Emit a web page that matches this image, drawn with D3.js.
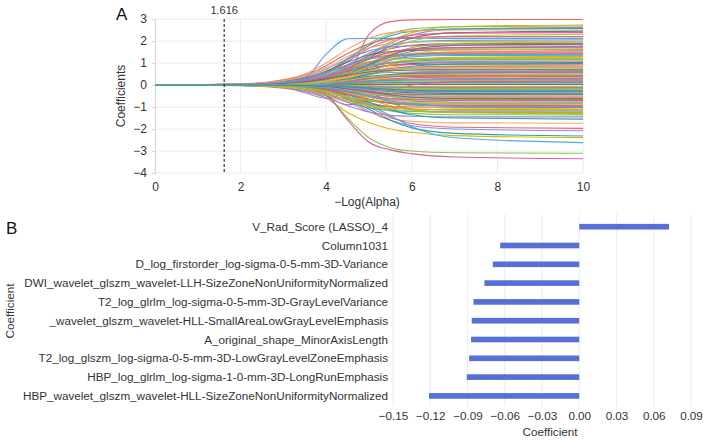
<!DOCTYPE html>
<html><head><meta charset="utf-8">
<script src="https://cdn.jsdelivr.net/npm/d3@7"></script>
<style>
html,body{margin:0;padding:0;background:#fff;}
svg{display:block;font-family:"Liberation Sans",Arial,Helvetica,sans-serif;}
</style></head>
<body>
<svg id="chart" width="703" height="440"></svg>
<script>
// ---------- Panel A data: LASSO coefficient paths ----------
const alphaGrid = [0, 2, 3, 3.5, 4, 4.5, 5, 5.5, 6, 7, 10];
const alphaTicks = [0, 2, 4, 6, 8, 10];
const coefTicks = [3, 2, 1, 0, -1, -2, -3, -4];
const chosenAlpha = 1.616;
const coefPaths = [
  [0, 0.01, 0.03, 0.08, 0.2, 0.55, 2.3, 2.88, 2.96, 2.98, 2.98],
  [0, 0.01, 0.1, 0.3, 1.4, 2.1, 2.12, 2.12, 2.12, 2.12, 2.12],
  [0, -0.01, -0.06, -0.2, -0.6, -1.25, -1.7, -2.0, -2.15, -2.3, -2.39],
  [0, -0.01, -0.05, -0.15, -0.45, -1.5, -2.4, -2.85, -3.0, -3.08, -3.1],
  [0, -0.01, -0.04, -0.1, -0.25, -0.65, -1.2, -1.6, -1.85, -2.0, -2.08],
  [0, -0.01, -0.05, -0.1, -0.25, -0.6, -1.1, -1.6, -1.95, -2.2, -2.32],
  [0, -0.02, -0.09, -0.17, -0.38, -0.78, -1.22, -1.51, -1.65, -1.72, -1.74],
  [0, 0.02, 0.1, 0.19, 0.42, 0.86, 1.33, 1.65, 1.81, 1.88, 1.9],
  [0, -0.01, -0.04, -0.12, -0.45, -1.6, -2.6, -2.95, -3.12, -3.27, -3.35],
  [0, 0.02, 0.15, 0.3, 0.4, 0.2, -0.2, -0.5, -0.7, -0.8, -0.82],
  [0, -0.01, -0.05, -0.1, -0.2, -0.5, -1.0, -1.45, -1.75, -1.92, -1.97],
  [0, -0.01, -0.04, -0.1, -0.22, -0.5, -0.9, -1.4, -1.9, -2.4, -2.62],
  [0, 0.03, 0.08, 0.16, 0.33, 0.76, 1.37, 1.97, 2.38, 2.65, 2.73],
  [0, 0.03, 0.13, 0.27, 0.59, 1.21, 1.88, 2.33, 2.55, 2.65, 2.68],
  [0, 0.03, 0.08, 0.16, 0.31, 0.73, 1.31, 1.89, 2.28, 2.54, 2.62],
  [0, 0.03, 0.13, 0.26, 0.57, 1.16, 1.8, 2.24, 2.44, 2.54, 2.57],
  [0, 0.05, 0.25, 0.5, 1.0, 1.63, 2.13, 2.38, 2.45, 2.5, 2.5],
  [0, 0.02, 0.07, 0.15, 0.29, 0.69, 1.23, 1.76, 2.13, 2.38, 2.45],
  [0, 0.02, 0.12, 0.24, 0.52, 1.07, 1.67, 2.07, 2.26, 2.36, 2.38],
  [0, 0.02, 0.07, 0.14, 0.28, 0.64, 1.15, 1.66, 2.0, 2.23, 2.3],
  [0, 0.04, 0.22, 0.44, 0.88, 1.43, 1.87, 2.09, 2.16, 2.2, 2.2],
  [0, 0.02, 0.1, 0.21, 0.45, 0.92, 1.44, 1.78, 1.95, 2.03, 2.05],
  [0, 0.02, 0.06, 0.12, 0.23, 0.55, 0.98, 1.4, 1.7, 1.89, 1.95],
  [0, 0.01, 0.1, 0.25, 0.35, 0.1, -0.3, -0.8, -1.1, -1.25, -1.3],
  [0, 0.04, 0.18, 0.36, 0.73, 1.18, 1.55, 1.73, 1.78, 1.82, 1.82],
  [0, 0.02, 0.05, 0.11, 0.21, 0.49, 0.88, 1.26, 1.52, 1.7, 1.75],
  [0, 0.02, 0.08, 0.17, 0.37, 0.76, 1.18, 1.46, 1.6, 1.66, 1.68],
  [0, 0.03, 0.16, 0.32, 0.64, 1.04, 1.36, 1.52, 1.57, 1.6, 1.6],
  [0, 0.02, 0.05, 0.09, 0.19, 0.43, 0.78, 1.12, 1.35, 1.5, 1.55],
  [0, 0.02, 0.08, 0.15, 0.33, 0.68, 1.05, 1.31, 1.43, 1.49, 1.5],
  [0, 0.03, 0.14, 0.28, 0.57, 0.92, 1.21, 1.35, 1.39, 1.42, 1.42],
  [0, 0.01, 0.07, 0.14, 0.3, 0.61, 0.95, 1.17, 1.28, 1.34, 1.35],
  [0, 0.01, 0.04, 0.08, 0.16, 0.36, 0.65, 0.94, 1.13, 1.26, 1.3],
  [0, 0.02, 0.12, 0.24, 0.49, 0.79, 1.04, 1.16, 1.2, 1.22, 1.22],
  [0, -0.01, -0.1, -0.35, -0.6, -0.3, 0.1, 0.4, 0.55, 0.6, 0.62],
  [0, 0.01, 0.06, 0.12, 0.25, 0.52, 0.81, 1.0, 1.09, 1.14, 1.15],
  [0, 0.01, 0.03, 0.07, 0.13, 0.31, 0.55, 0.79, 0.96, 1.07, 1.1],
  [0, 0.01, 0.05, 0.1, 0.22, 0.46, 0.71, 0.89, 0.97, 1.01, 1.02],
  [0, 0.02, 0.1, 0.19, 0.38, 0.62, 0.81, 0.9, 0.93, 0.95, 0.95],
  [0, 0.01, 0.03, 0.05, 0.11, 0.25, 0.45, 0.65, 0.78, 0.87, 0.9],
  [0, 0.01, 0.04, 0.09, 0.19, 0.38, 0.6, 0.74, 0.81, 0.84, 0.85],
  [0, 0.02, 0.08, 0.16, 0.31, 0.51, 0.66, 0.74, 0.76, 0.78, 0.78],
  [0, 0.01, 0.04, 0.07, 0.16, 0.32, 0.5, 0.63, 0.68, 0.71, 0.72],
  [0, 0.01, 0.02, 0.04, 0.08, 0.18, 0.33, 0.48, 0.57, 0.64, 0.66],
  [0, 0.01, 0.06, 0.12, 0.24, 0.39, 0.51, 0.57, 0.59, 0.6, 0.6],
  [0, 0.01, 0.03, 0.06, 0.12, 0.25, 0.39, 0.48, 0.52, 0.54, 0.55],
  [0, 0.01, 0.02, 0.03, 0.06, 0.14, 0.25, 0.36, 0.44, 0.49, 0.5],
  [0, 0, 0.02, 0.05, 0.1, 0.2, 0.32, 0.39, 0.43, 0.45, 0.45],
  [0, 0.01, 0.04, 0.08, 0.16, 0.26, 0.34, 0.38, 0.39, 0.4, 0.4],
  [0, 0, 0.02, 0.04, 0.08, 0.16, 0.25, 0.3, 0.33, 0.35, 0.35],
  [0, 0, 0.01, 0.02, 0.04, 0.08, 0.15, 0.22, 0.26, 0.29, 0.3],
  [0, 0, 0.01, 0.03, 0.06, 0.12, 0.18, 0.23, 0.25, 0.26, 0.26],
  [0, 0, 0.02, 0.04, 0.09, 0.14, 0.19, 0.21, 0.22, 0.22, 0.22],
  [0, 0, 0.01, 0.02, 0.04, 0.08, 0.13, 0.16, 0.17, 0.18, 0.18],
  [0, 0, 0, 0.01, 0.02, 0.04, 0.07, 0.1, 0.12, 0.14, 0.14],
  [0, 0, 0.01, 0.02, 0.04, 0.07, 0.09, 0.1, 0.1, 0.1, 0.1],
  [0, 0, 0, 0.01, 0.01, 0.03, 0.04, 0.05, 0.06, 0.06, 0.06],
  [0, 0, 0, 0, 0.01, 0.01, 0.02, 0.03, 0.03, 0.03, 0.03],
  [0, -0.01, -0.08, -0.2, -0.5, -0.9, -0.7, -0.3, 0.0, 0.15, 0.18],
  [0, 0, 0, -0.01, -0.01, -0.03, -0.04, -0.05, -0.06, -0.06, -0.06],
  [0, 0, -0.01, -0.02, -0.04, -0.07, -0.09, -0.1, -0.1, -0.1, -0.1],
  [0, 0, 0, -0.01, -0.02, -0.04, -0.07, -0.1, -0.12, -0.14, -0.14],
  [0, 0, -0.01, -0.02, -0.04, -0.08, -0.13, -0.16, -0.17, -0.18, -0.18],
  [0, 0, -0.02, -0.04, -0.09, -0.14, -0.19, -0.21, -0.22, -0.22, -0.22],
  [0, 0, -0.01, -0.02, -0.03, -0.07, -0.13, -0.19, -0.23, -0.25, -0.26],
  [0, 0, -0.02, -0.03, -0.07, -0.14, -0.21, -0.26, -0.29, -0.3, -0.3],
  [0, -0.01, -0.04, -0.07, -0.14, -0.23, -0.3, -0.33, -0.34, -0.35, -0.35],
  [0, 0, -0.01, -0.02, -0.05, -0.11, -0.2, -0.29, -0.35, -0.39, -0.4],
  [0, 0, -0.02, -0.05, -0.1, -0.2, -0.32, -0.39, -0.43, -0.45, -0.45],
  [0, -0.01, -0.05, -0.1, -0.2, -0.33, -0.43, -0.48, -0.49, -0.5, -0.5],
  [0, -0.01, -0.02, -0.03, -0.07, -0.15, -0.28, -0.4, -0.48, -0.53, -0.55],
  [0, -0.01, -0.03, -0.06, -0.13, -0.27, -0.42, -0.52, -0.57, -0.59, -0.6],
  [0, -0.01, -0.07, -0.13, -0.26, -0.43, -0.56, -0.63, -0.65, -0.66, -0.66],
  [0, -0.01, -0.02, -0.04, -0.09, -0.2, -0.36, -0.52, -0.63, -0.7, -0.72],
  [0, -0.01, -0.04, -0.08, -0.17, -0.35, -0.55, -0.68, -0.74, -0.77, -0.78],
  [0, -0.02, -0.09, -0.17, -0.34, -0.55, -0.72, -0.81, -0.83, -0.85, -0.85],
  [0, -0.01, -0.03, -0.05, -0.11, -0.25, -0.45, -0.65, -0.78, -0.87, -0.9],
  [0, -0.01, -0.05, -0.1, -0.21, -0.43, -0.67, -0.84, -0.91, -0.95, -0.96],
  [0, -0.02, -0.1, -0.2, -0.41, -0.66, -0.87, -0.97, -1.0, -1.02, -1.02],
  [0, -0.01, -0.03, -0.06, -0.13, -0.3, -0.54, -0.78, -0.94, -1.05, -1.08],
  [0, -0.01, -0.06, -0.12, -0.25, -0.52, -0.81, -1.0, -1.09, -1.14, -1.15],
  [0, -0.02, -0.12, -0.24, -0.49, -0.79, -1.04, -1.16, -1.2, -1.22, -1.22],
  [0, -0.01, -0.04, -0.08, -0.16, -0.36, -0.65, -0.94, -1.13, -1.26, -1.3],
  [0, -0.01, -0.07, -0.14, -0.3, -0.61, -0.95, -1.18, -1.29, -1.35, -1.36],
  [0, -0.03, -0.15, -0.29, -0.58, -0.94, -1.23, -1.38, -1.42, -1.45, -1.45],
  [0, -0.02, -0.05, -0.09, -0.19, -0.43, -0.78, -1.12, -1.35, -1.5, -1.55],
  [0, 0.04, 0.2, 0.4, 0.79, 1.29, 1.68, 1.88, 1.94, 1.98, 1.98],
  [0, 0.02, 0.06, 0.11, 0.22, 0.52, 0.93, 1.34, 1.62, 1.8, 1.86],
  [0, 0.02, 0.09, 0.17, 0.38, 0.77, 1.2, 1.5, 1.63, 1.7, 1.72],
  [0, 0.02, 0.05, 0.1, 0.2, 0.46, 0.82, 1.18, 1.43, 1.59, 1.64],
  [0, 0.01, 0.07, 0.15, 0.32, 0.66, 1.02, 1.27, 1.39, 1.45, 1.46],
  [0, 0.03, 0.14, 0.28, 0.55, 0.9, 1.17, 1.31, 1.35, 1.38, 1.38],
  [0, 0.01, 0.04, 0.08, 0.15, 0.35, 0.63, 0.91, 1.1, 1.22, 1.26],
  [0, 0.01, 0.06, 0.12, 0.26, 0.53, 0.83, 1.03, 1.12, 1.17, 1.18],
  [0, 0.02, 0.11, 0.21, 0.42, 0.69, 0.9, 1.01, 1.04, 1.06, 1.06],
  [0, 0.01, 0.03, 0.06, 0.12, 0.27, 0.49, 0.71, 0.85, 0.95, 0.98],
  [0, 0.01, 0.04, 0.08, 0.18, 0.37, 0.57, 0.71, 0.78, 0.81, 0.82],
  [0, 0.01, 0.07, 0.14, 0.28, 0.45, 0.59, 0.66, 0.68, 0.69, 0.69],
  [0, 0.01, 0.02, 0.03, 0.07, 0.16, 0.29, 0.42, 0.5, 0.56, 0.58],
  [0, 0, 0.02, 0.05, 0.11, 0.22, 0.34, 0.42, 0.46, 0.48, 0.48],
  [0, 0, 0.01, 0.02, 0.05, 0.11, 0.19, 0.27, 0.33, 0.37, 0.38],
  [0, 0, 0.01, 0.02, 0.05, 0.11, 0.17, 0.21, 0.23, 0.24, 0.24],
  [0, 0, 0, 0, -0.01, -0.02, -0.04, -0.06, -0.07, -0.08, -0.08],
  [0, 0, -0.02, -0.04, -0.08, -0.13, -0.17, -0.19, -0.2, -0.2, -0.2],
  [0, 0, -0.02, -0.03, -0.07, -0.14, -0.22, -0.28, -0.3, -0.32, -0.32],
  [0, -0.01, -0.04, -0.08, -0.17, -0.27, -0.36, -0.4, -0.41, -0.42, -0.42],
  [0, -0.01, -0.03, -0.05, -0.11, -0.23, -0.36, -0.45, -0.49, -0.51, -0.52],
  [0, -0.01, -0.02, -0.04, -0.08, -0.18, -0.32, -0.45, -0.55, -0.61, -0.63],
  [0, -0.01, -0.04, -0.07, -0.15, -0.32, -0.49, -0.61, -0.67, -0.69, -0.7],
  [0, -0.02, -0.08, -0.16, -0.33, -0.53, -0.7, -0.78, -0.8, -0.82, -0.82],
  [0, -0.01, -0.05, -0.09, -0.2, -0.42, -0.65, -0.81, -0.88, -0.92, -0.93],
  [0, -0.01, -0.03, -0.06, -0.12, -0.28, -0.5, -0.72, -0.87, -0.97, -1.0],
  [0, -0.02, -0.11, -0.22, -0.45, -0.73, -0.95, -1.06, -1.1, -1.12, -1.12],
  [0, -0.01, -0.06, -0.13, -0.28, -0.56, -0.88, -1.09, -1.19, -1.24, -1.25],
  [0, 0, -0.01, -0.01, -0.03, -0.05, -0.08, -0.1, -0.11, -0.12, -0.12],
  [0, 0, -0.01, -0.02, -0.03, -0.08, -0.14, -0.2, -0.24, -0.27, -0.28]
];
const pathColors = ["#e8606e", "#45a5e8", "#d9b200", "#8bbf40", "#9a7fd6",
                    "#17a2a6", "#f2a25e", "#6e6e6e", "#d9559c", "#bcc43a"];

// ---------- Panel B data: selected feature coefficients ----------
const features = [
  "V_Rad_Score (LASSO)_4",
  "Column1031",
  "D_log_firstorder_log-sigma-0-5-mm-3D-Variance",
  "DWI_wavelet_glszm_wavelet-LLH-SizeZoneNonUniformityNormalized",
  "T2_log_glrlm_log-sigma-0-5-mm-3D-GrayLevelVariance",
  "_wavelet_glszm_wavelet-HLL-SmallAreaLowGrayLevelEmphasis",
  "A_original_shape_MinorAxisLength",
  "T2_log_glszm_log-sigma-0-5-mm-3D-LowGrayLevelZoneEmphasis",
  "HBP_log_glrlm_log-sigma-1-0-mm-3D-LongRunEmphasis",
  "HBP_wavelet_glszm_wavelet-HLL-SizeZoneNonUniformityNormalized"
];
const featureCoefs = [0.0723, -0.0637, -0.0696, -0.0764, -0.0852, -0.0866, -0.0871, -0.0887, -0.0906, -0.121];
const coefAxisTicks = [-0.15, -0.12, -0.09, -0.06, -0.03, 0.00, 0.03, 0.06, 0.09];

// ---------- drawing ----------
const svg = d3.select("#chart");
const txt = "#333";
const gridCol = "#ececf1";

// Panel A
const xA = d3.scaleLinear().domain([0, 10]).range([155, 583]);
const yA = d3.scaleLinear().domain([-4, 3]).range([173, 19]);
const gA = svg.append("g");

gA.append("g").selectAll("line").data(coefTicks).join("line")
  .attr("x1", xA(0)).attr("x2", xA(10))
  .attr("y1", d => yA(d)).attr("y2", d => yA(d))
  .attr("stroke", gridCol).attr("stroke-width", 1);
gA.append("g").selectAll("line").data(alphaTicks).join("line")
  .attr("x1", d => xA(d)).attr("x2", d => xA(d))
  .attr("y1", yA(3)).attr("y2", yA(-4))
  .attr("stroke", gridCol).attr("stroke-width", 1);

const axL = gA.append("g").attr("transform", `translate(${xA(0)},0)`)
  .call(d3.axisLeft(yA).tickValues(coefTicks).tickSize(3).tickPadding(5).tickFormat(d3.format("d")));
axL.select(".domain").attr("stroke", "#d8d8de");
axL.selectAll(".tick line").attr("stroke", "#d8d8de");
axL.selectAll("text").attr("fill", txt).attr("font-size", 12)
  .text(d => d < 0 ? "\u2212" + Math.abs(d) : d);

const axB = gA.append("g").attr("transform", `translate(0,${yA(-4)})`)
  .call(d3.axisBottom(xA).tickValues(alphaTicks).tickSize(0).tickPadding(9));
axB.select(".domain").remove();
axB.selectAll("text").attr("fill", txt).attr("font-size", 12);

const lineGen = d3.line().x((d, i) => xA(alphaGrid[i])).y(d => yA(d)).curve(d3.curveMonotoneX);
gA.append("g").selectAll("path").data(coefPaths).join("path")
  .attr("d", lineGen).attr("fill", "none")
  .attr("stroke", (d, i) => pathColors[i % pathColors.length])
  .attr("stroke-width", 1.1).attr("stroke-opacity", 0.95);

gA.append("line").attr("x1", xA(chosenAlpha)).attr("x2", xA(chosenAlpha))
  .attr("y1", yA(3)).attr("y2", yA(-4))
  .attr("stroke", "#111").attr("stroke-width", 1).attr("stroke-dasharray", "3,2");
gA.append("text").attr("x", xA(chosenAlpha)).attr("y", 14).attr("text-anchor", "middle")
  .attr("font-size", 11).attr("fill", txt).text(chosenAlpha.toFixed(3));

gA.append("text").attr("x", 116).attr("y", 20).attr("font-size", 17).attr("fill", "#111").text("A");
gA.append("text").attr("transform", `translate(125,${(yA(3) + yA(-4)) / 2}) rotate(-90)`)
  .attr("text-anchor", "middle").attr("font-size", 12).attr("fill", txt).text("Coefficients");
gA.append("text").attr("x", 367).attr("y", 206).attr("text-anchor", "middle")
  .attr("font-size", 12).attr("fill", txt).text("\u2212Log(Alpha)");

// Panel B
const xB = d3.scaleLinear().domain([-0.15, 0.09]).range([393, 691]);
const yB = d3.scaleBand().domain(features).range([217.3, 405.3]).paddingInner(0.7).paddingOuter(0.35);
const gB = svg.append("g");

gB.append("g").selectAll("line").data(coefAxisTicks).join("line")
  .attr("x1", d => xB(d)).attr("x2", d => xB(d))
  .attr("y1", 214).attr("y2", 406)
  .attr("stroke", gridCol).attr("stroke-width", 1);

gB.append("g").selectAll("rect").data(featureCoefs).join("rect")
  .attr("x", d => xB(Math.min(0, d)))
  .attr("width", d => Math.abs(xB(d) - xB(0)))
  .attr("y", (d, i) => yB(features[i]))
  .attr("height", yB.bandwidth())
  .attr("fill", "#5670d8");

gB.append("g").selectAll("text").data(features).join("text")
  .attr("x", 388).attr("y", d => yB(d) + yB.bandwidth() / 2)
  .attr("dy", "0.35em").attr("text-anchor", "end")
  .attr("font-size", 11.7).attr("fill", txt).text(d => d);

const axBx = gB.append("g").attr("transform", "translate(0,407)")
  .call(d3.axisBottom(xB).tickValues(coefAxisTicks).tickSize(0).tickPadding(5).tickFormat(d3.format(".2f")));
axBx.select(".domain").remove();
axBx.selectAll("text").attr("fill", txt).attr("font-size", 11.7)
  .text(d => (d < 0 ? "\u2212" : "") + Math.abs(d).toFixed(2));

gB.append("text").attr("x", 550).attr("y", 436).attr("text-anchor", "middle")
  .attr("font-size", 11.7).attr("fill", txt).text("Coefficient");
gB.append("text").attr("transform", "translate(14,311) rotate(-90)")
  .attr("text-anchor", "middle").attr("font-size", 11.7).attr("fill", txt).text("Coefficient");
gB.append("text").attr("x", 6).attr("y", 234).attr("font-size", 17).attr("fill", "#111").text("B");
</script>
</body></html>
